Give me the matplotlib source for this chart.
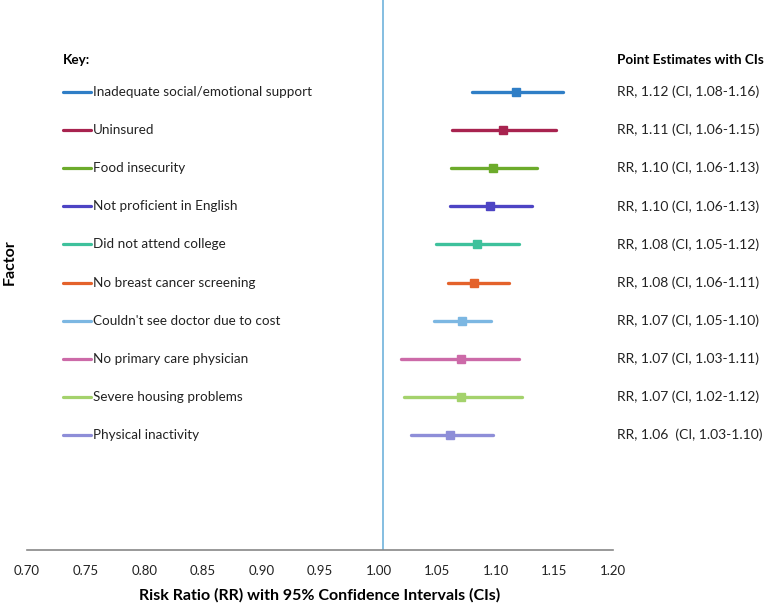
import matplotlib
matplotlib.use("Agg")
import matplotlib.pyplot as plt

plt.rcParams['font.family'] = ['Lato', 'DejaVu Sans']

# factors, top to bottom
factors = [
    "Inadequate social/emotional support",
    "Uninsured",
    "Food insecurity",
    "Not proficient in English",
    "Did not attend college",
    "No breast cancer screening",
    "Couldn't see doctor due to cost",
    "No primary care physician",
    "Severe housing problems",
    "Physical inactivity",
]
rr = [1.117, 1.106, 1.098, 1.095, 1.084, 1.081, 1.071, 1.070, 1.070, 1.061]
ci_low = [1.080, 1.063, 1.062, 1.061, 1.049, 1.059, 1.047, 1.019, 1.022, 1.028]
ci_high = [1.157, 1.151, 1.135, 1.131, 1.120, 1.111, 1.096, 1.120, 1.122, 1.098]
estimates = [
    "RR, 1.12 (CI, 1.08-1.16)",
    "RR, 1.11 (CI, 1.06-1.15)",
    "RR, 1.10 (CI, 1.06-1.13)",
    "RR, 1.10 (CI, 1.06-1.13)",
    "RR, 1.08 (CI, 1.05-1.12)",
    "RR, 1.08 (CI, 1.06-1.11)",
    "RR, 1.07 (CI, 1.05-1.10)",
    "RR, 1.07 (CI, 1.03-1.11)",
    "RR, 1.07 (CI, 1.02-1.12)",
    "RR, 1.06  (CI, 1.03-1.10)",
]
colors = ["#2f7ec6", "#a8234f", "#6cab2b", "#4d44c4", "#3ec19c",
          "#e4622b", "#7cb7e2", "#cc6aa8", "#a4d26c", "#8e8ed8"]
xticks = [0.70, 0.75, 0.80, 0.85, 0.90, 0.95, 1.00, 1.05, 1.10, 1.15, 1.20]

fig = plt.figure(figsize=(7.77, 6.07), dpi=100)
ax = fig.add_axes([27 / 777, 1 - 550 / 607, (613 - 27) / 777, 550 / 607])

# reference line at RR = 1
ax.axvline(1.004, color="#6fb3dc", lw=1.2, zorder=1)

for i in range(len(factors)):
    ax.plot([ci_low[i], ci_high[i]], [i, i], color=colors[i], lw=2.4,
            solid_capstyle="round", zorder=2)
    ax.plot(rr[i], i, marker="s", ms=6, color=colors[i], zorder=3)
    # key entry on the left
    ax.plot([0.7307, 0.7545], [i, i], color=colors[i], lw=2.3,
            solid_capstyle="round", clip_on=False)
    ax.text(0.7560, i, factors[i], fontsize=9.7, va="center", ha="left",
            color="#222222")
    ax.text(1.2034, i, estimates[i], fontsize=10, va="center", ha="left",
            color="#222222", clip_on=False)

ax.text(0.7307, -0.84, "Key:", fontsize=9.7, fontweight="bold", va="center")
ax.text(1.2034, -0.84, "Point Estimates with CIs", fontsize=9.7,
        fontweight="bold", va="center", clip_on=False)

ax.set_xlim(0.70, 1.20)
ax.set_ylim(12.02, -2.415)
ax.set_xticks(xticks)
ax.set_xticklabels([f"{t:.2f}" for t in xticks], fontsize=9.5, color="#222222")
ax.tick_params(axis="x", length=0, pad=11)
ax.set_yticks([])
for s in ["top", "left", "right"]:
    ax.spines[s].set_visible(False)
ax.spines["bottom"].set_color("#888888")
ax.spines["bottom"].set_linewidth(1.2)
ax.set_xlabel("Risk Ratio (RR) with 95% Confidence Intervals (CIs)",
              fontsize=11.5, fontweight="bold", labelpad=8)
fig.text(10 / 777, 1 - 262 / 607, "Factor", rotation=90, fontsize=11.5,
         fontweight="bold", va="center", ha="center")

fig.savefig("out.png", dpi=100)
